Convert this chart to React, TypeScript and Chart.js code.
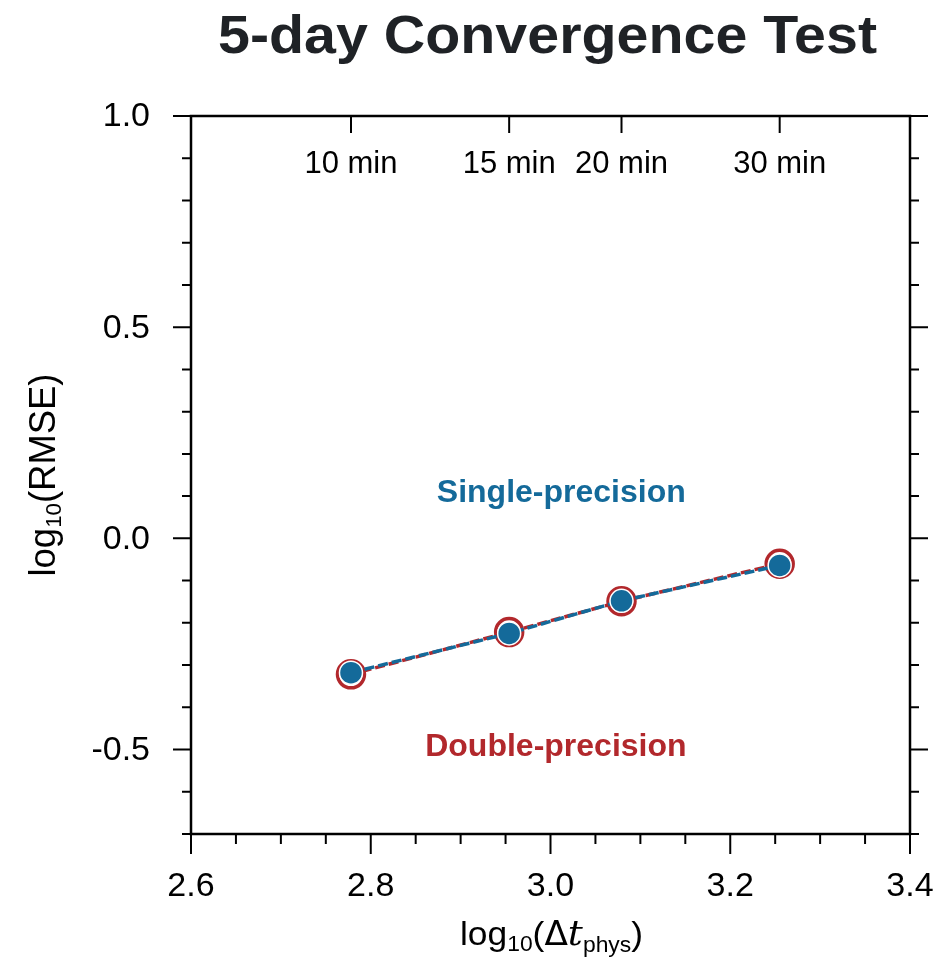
import React, { useEffect, useRef } from "react";
import { Chart, registerables } from "chart.js";

Chart.register(...registerables);

// ---- data ----
const stepLabels = ["10 min", "15 min", "20 min", "30 min"];
const logDt = [2.778, 2.954, 3.079, 3.255];
const singleRmse = [-0.318, -0.225, -0.148, -0.064];
const doubleRmse = [-0.322, -0.222, -0.149, -0.06];
const xMajorTicks = [2.6, 2.8, 3.0, 3.2, 3.4];
const xTickLabels = ["2.6", "2.8", "3.0", "3.2", "3.4"];
const yMajorTicks = [-0.5, 0.0, 0.5, 1.0];
const yTickLabels = ["-0.5", "0.0", "0.5", "1.0"];
const seriesNames = ["Single-precision", "Double-precision"];
const seriesLabelPos = [
  [3.012, 0.106],
  [3.006, -0.494],
];

const BLUE = "#146a9a";
const RED = "#b2282c";
const FONT = "'Liberation Sans', Arial, Helvetica, sans-serif";

type Part = { text: string; font: string; dy?: number };

function drawRich(
  ctx: CanvasRenderingContext2D,
  parts: Part[],
  cx: number,
  y: number,
  target?: number
) {
  let total = 0;
  const widths = parts.map((p) => {
    ctx.font = p.font;
    const w = ctx.measureText(p.text).width;
    total += w;
    return w;
  });
  const k = target ? target / total : 1;
  ctx.save();
  ctx.translate(cx, y);
  ctx.scale(k, 1);
  let x = -total / 2;
  ctx.textAlign = "left";
  ctx.textBaseline = "alphabetic";
  parts.forEach((p, i) => {
    ctx.font = p.font;
    ctx.fillText(p.text, x, p.dy || 0);
    x += widths[i];
  });
  ctx.restore();
}

function fitText(ctx: CanvasRenderingContext2D, text: string, cx: number, y: number, target: number) {
  const w = ctx.measureText(text).width;
  ctx.save();
  ctx.translate(cx, y);
  ctx.scale(target / w, 1);
  ctx.textAlign = "center";
  ctx.fillText(text, 0, 0);
  ctx.restore();
}

const framePlugin = {
  id: "ncFrame",
  afterDatasetsDraw(chart: any) {
    const ctx: CanvasRenderingContext2D = chart.ctx;
    const { left, right, top, bottom } = chart.chartArea;
    const xs = chart.scales.x;
    const ys = chart.scales.y;
    ctx.save();
    ctx.strokeStyle = "#000";
    ctx.fillStyle = "#000";

    // frame
    ctx.lineWidth = 2.5;
    ctx.strokeRect(left, top, right - left, bottom - top);

    // y ticks (left outward, right outward)
    ctx.lineWidth = 2;
    for (let i = -7; i <= 10; i++) {
      const v = i / 10;
      const major = i % 5 === 0;
      const py = ys.getPixelForValue(v);
      const len = major ? 18 : 9;
      ctx.beginPath();
      ctx.moveTo(left, py);
      ctx.lineTo(left - len, py);
      ctx.moveTo(right, py);
      ctx.lineTo(right + len, py);
      ctx.stroke();
    }
    // x ticks bottom outward
    for (let i = 0; i <= 16; i++) {
      const v = 2.6 + i * 0.05;
      const major = i % 4 === 0;
      const px = xs.getPixelForValue(v);
      const len = major ? 20 : 10;
      ctx.beginPath();
      ctx.moveTo(px, bottom);
      ctx.lineTo(px, bottom + len);
      ctx.stroke();
    }
    // top ticks at time steps, inward
    logDt.forEach((v) => {
      const px = xs.getPixelForValue(v);
      ctx.beginPath();
      ctx.moveTo(px, top);
      ctx.lineTo(px, top + 17);
      ctx.stroke();
    });

    // tick labels
    ctx.font = `34px ${FONT}`;
    ctx.textAlign = "right";
    ctx.textBaseline = "middle";
    yMajorTicks.forEach((v, i) => {
      ctx.fillText(yTickLabels[i], left - 41, ys.getPixelForValue(v) + 1);
    });
    ctx.textAlign = "center";
    xMajorTicks.forEach((v, i) => {
      ctx.fillText(xTickLabels[i], xs.getPixelForValue(v), bottom + 53);
    });
    ctx.font = `31px ${FONT}`;
    stepLabels.forEach((s, i) => {
      ctx.fillText(s, xs.getPixelForValue(logDt[i]), top + 48);
    });

    // series labels
    ctx.font = `bold 32px ${FONT}`;
    ctx.textBaseline = "middle";
    ctx.fillStyle = BLUE;
    ctx.textAlign = "center";
    ctx.fillText(seriesNames[0], xs.getPixelForValue(seriesLabelPos[0][0]), ys.getPixelForValue(seriesLabelPos[0][1]));
    ctx.fillStyle = RED;
    ctx.fillText(seriesNames[1], xs.getPixelForValue(seriesLabelPos[1][0]), ys.getPixelForValue(seriesLabelPos[1][1]));

    // title
    ctx.fillStyle = "#1f2226";
    ctx.font = `bold 54px ${FONT}`;
    ctx.textBaseline = "alphabetic";
    fitText(ctx, "5-day Convergence Test", 547.5, 53, 659);

    // x axis title
    ctx.fillStyle = "#000";
    drawRich(
      ctx,
      [
        { text: "log", font: `34px ${FONT}` },
        { text: "10", font: `22px ${FONT}`, dy: 6 },
        { text: "(", font: `34px ${FONT}` },
        { text: "\u0394", font: `33px 'DejaVu Sans', ${FONT}` },
        { text: "t", font: `italic 36px 'DejaVu Serif', serif` },
        { text: "phys", font: `22px ${FONT}`, dy: 7 },
        { text: ")", font: `34px ${FONT}` },
      ],
      551.5,
      bottom + 111,
      183
    );

    // y axis title
    ctx.save();
    ctx.translate(55, 475);
    ctx.rotate(-Math.PI / 2);
    drawRich(
      ctx,
      [
        { text: "log", font: `36px ${FONT}` },
        { text: "10", font: `22px ${FONT}`, dy: 6 },
        { text: "(RMSE)", font: `36px ${FONT}` },
      ],
      0,
      0,
      203
    );
    ctx.restore();

    ctx.restore();
  },
};

export default function App() {
  const ref = useRef<HTMLCanvasElement | null>(null);
  useEffect(() => {
    if (!ref.current) return;
    const chart = new Chart(ref.current, {
      type: "scatter",
      data: {
        datasets: [
          {
            label: seriesNames[0],
            data: logDt.map((x, i) => ({ x, y: singleRmse[i] })),
            showLine: true,
            borderColor: BLUE,
            borderWidth: 3.5,
            borderDash: [10, 4],
            pointRadius: 11.5,
            pointBackgroundColor: BLUE,
            pointBorderColor: "#ffffff",
            pointBorderWidth: 1.5,
            clip: false,
          },
          {
            label: seriesNames[1],
            data: logDt.map((x, i) => ({ x, y: doubleRmse[i] })),
            showLine: true,
            borderColor: RED,
            borderWidth: 3.5,
            borderDash: [10, 4],
            borderDashOffset: 3,
            pointRadius: 13.5,
            pointBackgroundColor: "#ffffff",
            pointBorderColor: RED,
            pointBorderWidth: 3.5,
            clip: false,
          },
        ],
      },
      options: {
        animation: false,
        responsive: false,
        layout: { padding: { left: 191, right: 37, top: 116, bottom: 132 } },
        scales: {
          x: { type: "linear", min: 2.6, max: 3.4, display: false },
          y: { type: "linear", min: -0.7, max: 1.0, display: false },
        },
        plugins: {
          legend: { display: false },
          tooltip: { enabled: false },
          title: { display: false },
        },
      },
      plugins: [framePlugin],
    });
    return () => chart.destroy();
  }, []);
  return (
    <div style={{ position: "absolute", left: 0, top: 0, width: 947, height: 966, background: "#fff" }}>
      <canvas ref={ref} width={947} height={966} style={{ display: "block" }} />
    </div>
  );
}
